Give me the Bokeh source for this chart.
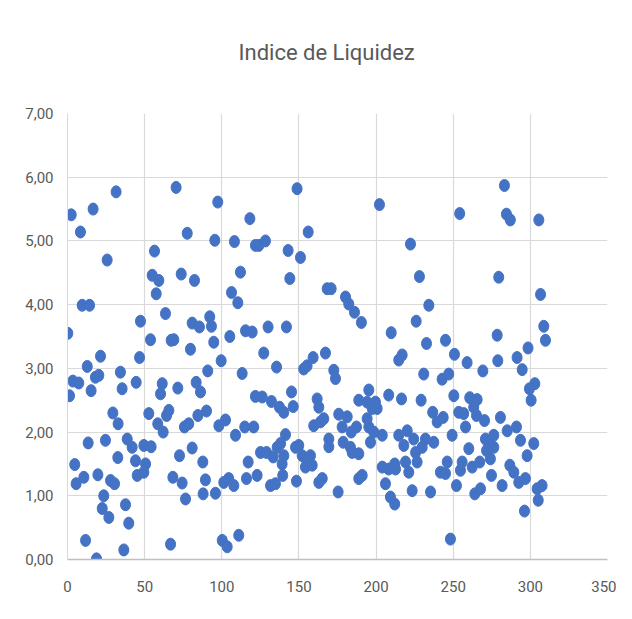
from bokeh.plotting import figure
from bokeh.models import Range1d, ColumnDataSource, FixedTicker, CustomJSTickFormatter, Title
from bokeh.embed import file_html
from bokeh.resources import INLINE

title_text = "Indice de Liquidez"
x_ticks = [0, 50, 100, 150, 200, 250, 300, 350]
y_ticks = [0, 1, 2, 3, 4, 5, 6, 7]

x_vals = [
    31.5, 2.4, 16.6, 8.4, 25.7, 9.5, 14.3, 0.2, 21.4, 12.8, 34.3, 18.1, 20.3, 3.5, 7.3, 1.3, 15.3, 35.4,
    29.4, 32.8, 13.4, 24.6, 38.7, 32.6, 4.7, 5.6, 10.6, 19.7, 27.9, 30.5, 23.5, 22.5, 26.8, 37.6, 39.7,
    11.7, 18.8, 36.5,
    70.4, 77.6, 56.4, 54.9, 59.2, 57.5, 73.7, 82.3, 47.3, 63.5, 53.8, 67.2, 68.9, 80.8, 85.5, 79.7, 46.7,
    90.9, 44.5, 61.4, 60.3, 71.5, 83.4, 86.2, 52.7, 65.7, 64.2, 58.5, 62.0, 75.8, 78.6, 84.5, 90.1, 41.9,
    49.5, 54.2, 44.1, 50.6, 45.2, 49.5, 72.6, 80.8, 87.7, 68.3, 74.3, 89.4, 76.5, 87.9, 66.8,
    97.4, 118.2, 95.5, 108.2, 121.8, 124.0, 128.3, 112.1, 106.3, 110.4, 92.2, 93.3, 94.8, 105.2, 115.4,
    119.7, 130.0, 99.6, 127.2, 135.5, 113.2, 121.8, 126.2, 132.2, 137.4, 140.2, 98.1, 102.4, 108.9, 114.9,
    120.7, 125.1, 129.0, 133.3, 135.9, 117.1, 139.1, 101.3, 104.5, 107.8, 116.0, 122.9, 131.6, 134.8,
    139.5, 95.9, 100.3, 103.5, 111.0,
    148.8, 156.0, 143.0, 151.0, 144.1, 168.3, 170.9, 180.2, 182.3, 186.0, 190.5, 141.9, 153.1, 155.3,
    159.2, 167.2, 172.6, 173.7, 145.2, 146.3, 161.8, 162.9, 188.8, 159.6, 164.0, 166.1, 175.8, 181.3,
    178.0, 183.9, 187.3, 178.7, 183.4, 184.5, 188.8, 169.4, 169.4, 141.3, 140.2, 138.1, 147.8, 149.9,
    152.1, 155.3, 157.5, 154.2, 158.6, 148.4, 162.9, 165.1, 175.4, 188.8,
    202.2, 222.3, 228.1, 234.2, 209.8, 226.0, 232.7, 214.7, 216.9, 230.9, 195.3, 194.2, 199.6, 200.7,
    197.5, 208.2, 216.5, 229.2, 236.7, 194.2, 195.3, 198.5, 196.4, 204.0, 214.7, 220.2, 218.0, 224.4,
    232.0, 229.9, 237.4, 191.0, 204.0, 208.2, 212.1, 212.6, 219.1, 221.2, 225.6, 226.6, 206.1, 209.3,
    212.1, 223.4, 235.3,
    283.2, 284.5, 287.0, 254.2, 279.5, 278.5, 278.9, 245.0, 250.8, 259.0, 269.2, 242.8, 247.1, 250.4,
    239.6, 243.5, 253.6, 256.8, 260.7, 265.5, 263.3, 265.1, 258.0, 270.3, 280.6, 285.0, 249.3, 270.9,
    273.1, 276.3, 276.3, 274.1, 271.6, 260.1, 246.1, 241.7, 245.0, 255.8, 254.7, 262.3, 267.2, 286.7,
    274.8, 252.1, 264.0, 267.7, 281.7, 248.2,
    305.5, 306.6, 308.7, 309.8, 298.5, 291.4, 294.7, 302.9, 299.4, 300.5, 291.0, 293.6, 302.2, 297.9,
    289.3, 292.5, 296.8, 304.4, 307.6, 305.1, 296.2,
]

y_vals = [
    5.77, 5.41, 5.50, 5.14, 4.70, 3.99, 3.99, 3.55, 3.19, 3.03, 2.94, 2.86, 2.89, 2.80, 2.77, 2.57, 2.65, 2.68,
    2.30, 2.13, 1.83, 1.87, 1.89, 1.60, 1.49, 1.19, 1.29, 1.33, 1.24, 1.19, 1.00, 0.80, 0.66, 0.86, 0.57,
    0.30, 0.01, 0.15,
    5.84, 5.12, 4.84, 4.46, 4.38, 4.17, 4.48, 4.38, 3.74, 3.86, 3.45, 3.44, 3.45, 3.71, 3.65, 3.30, 3.17,
    2.96, 2.78, 2.76, 2.60, 2.69, 2.78, 2.63, 2.29, 2.34, 2.26, 2.13, 2.00, 2.08, 2.13, 2.26, 2.33, 1.76,
    1.79, 1.77, 1.55, 1.50, 1.32, 1.37, 1.63, 1.75, 1.53, 1.29, 1.20, 1.25, 0.95, 1.03, 0.24,
    5.61, 5.35, 5.01, 4.99, 4.93, 4.93, 5.00, 4.51, 4.19, 4.03, 3.81, 3.66, 3.41, 3.50, 3.59,
    3.57, 3.65, 3.12, 3.24, 3.02, 2.92, 2.56, 2.55, 2.48, 2.39, 2.31, 2.10, 2.19, 1.95, 2.08,
    2.08, 1.68, 1.68, 1.61, 1.76, 1.53, 1.50, 1.21, 1.27, 1.16, 1.27, 1.32, 1.16, 1.19,
    1.32, 1.04, 0.30, 0.20, 0.38,
    5.82, 5.14, 4.85, 4.74, 4.41, 4.25, 4.25, 4.12, 4.01, 3.88, 3.72, 3.65, 2.99, 3.04,
    3.17, 3.24, 2.97, 2.84, 2.63, 2.40, 2.52, 2.39, 2.50, 2.10, 2.16, 2.21, 2.28, 2.24,
    2.08, 2.00, 2.08, 1.84, 1.76, 1.68, 1.66, 1.89, 1.77, 1.96, 1.63, 1.82, 1.76, 1.79,
    1.63, 1.53, 1.63, 1.45, 1.48, 1.23, 1.21, 1.27, 1.06, 1.27,
    5.57, 4.95, 4.44, 3.99, 3.56, 3.74, 3.39, 3.13, 3.21, 2.91, 2.66, 2.47, 2.47, 2.37,
    2.37, 2.58, 2.52, 2.50, 2.31, 2.21, 2.08, 2.00, 1.84, 1.95, 1.95, 2.02, 1.79, 1.89,
    1.89, 1.76, 1.84, 1.32, 1.45, 1.42, 1.50, 1.42, 1.53, 1.37, 1.68, 1.53, 1.19, 0.98,
    0.87, 1.08, 1.06,
    5.87, 5.42, 5.33, 5.43, 4.43, 3.52, 3.12, 3.44, 3.22, 3.09, 2.96, 2.83, 2.91, 2.57,
    2.16, 2.23, 2.31, 2.29, 2.54, 2.51, 2.39, 2.26, 2.08, 2.18, 2.23, 2.02, 1.95, 1.89,
    1.82, 1.95, 1.76, 1.58, 1.71, 1.74, 1.53, 1.37, 1.35, 1.53, 1.40, 1.45, 1.53, 1.48,
    1.32, 1.16, 1.03, 1.11, 1.16, 0.32,
    5.33, 4.16, 3.66, 3.44, 3.32, 3.17, 2.98, 2.76, 2.68, 2.50, 2.08, 1.87, 1.82, 1.63,
    1.37, 1.21, 1.27, 1.11, 1.16, 0.93, 0.76,
]

src = ColumnDataSource(data=dict(x=x_vals, y=y_vals))

FONT = "Roboto"
GRAY = "#595959"

p = figure(width=616, height=603, x_range=Range1d(0, 350), y_range=Range1d(0, 7),
           output_backend="svg", toolbar_location=None,
           min_border_left=67, min_border_right=9, min_border_top=113, min_border_bottom=44)
p.background_fill_color = "white"
p.border_fill_color = "white"
p.outline_line_color = None

# invisible spacer panel between the frame and the title
spacer = Title(text=" ", text_font_size="1px", standoff=46, text_color="white")
p.add_layout(spacer, "above")

p.title.text = title_text
p.title.align = "left"
p.title.vertical_align = "bottom"
p.title.offset = 171
p.title.text_font = FONT
p.title.text_font_size = "22px"
p.title.text_font_style = "normal"
p.title.text_color = GRAY
p.title.standoff = 0

fmt = CustomJSTickFormatter(code="return tick.toFixed(2).replace('.', ',');")
p.yaxis.ticker = FixedTicker(ticks=y_ticks)
p.yaxis.formatter = fmt
p.xaxis.ticker = FixedTicker(ticks=x_ticks)

for ax in (p.xaxis[0], p.yaxis[0]):
    ax.major_tick_line_color = None
    ax.minor_tick_line_color = None
    ax.major_tick_out = 0
    ax.major_tick_in = 0
    ax.major_label_text_font = FONT
    ax.major_label_text_font_size = "15px"
    ax.major_label_text_color = GRAY
p.yaxis.major_label_standoff = 14
p.xaxis.major_label_standoff = 21

p.yaxis.axis_line_color = "#d9d9d9"
p.xaxis.axis_line_color = "#c0c0c0"
p.xaxis.axis_line_width = 1.5

p.xgrid.ticker = FixedTicker(ticks=x_ticks)
p.ygrid.ticker = FixedTicker(ticks=y_ticks)
p.grid.grid_line_color = "#d9d9d9"
p.grid.grid_line_width = 1.2

p.ellipse(x="x", y="y", width=10, height=12, width_units="screen", height_units="screen",
          fill_color="#4472C4", line_color="#4472C4", source=src)

open("out.html", "w").write(file_html(p, INLINE))
